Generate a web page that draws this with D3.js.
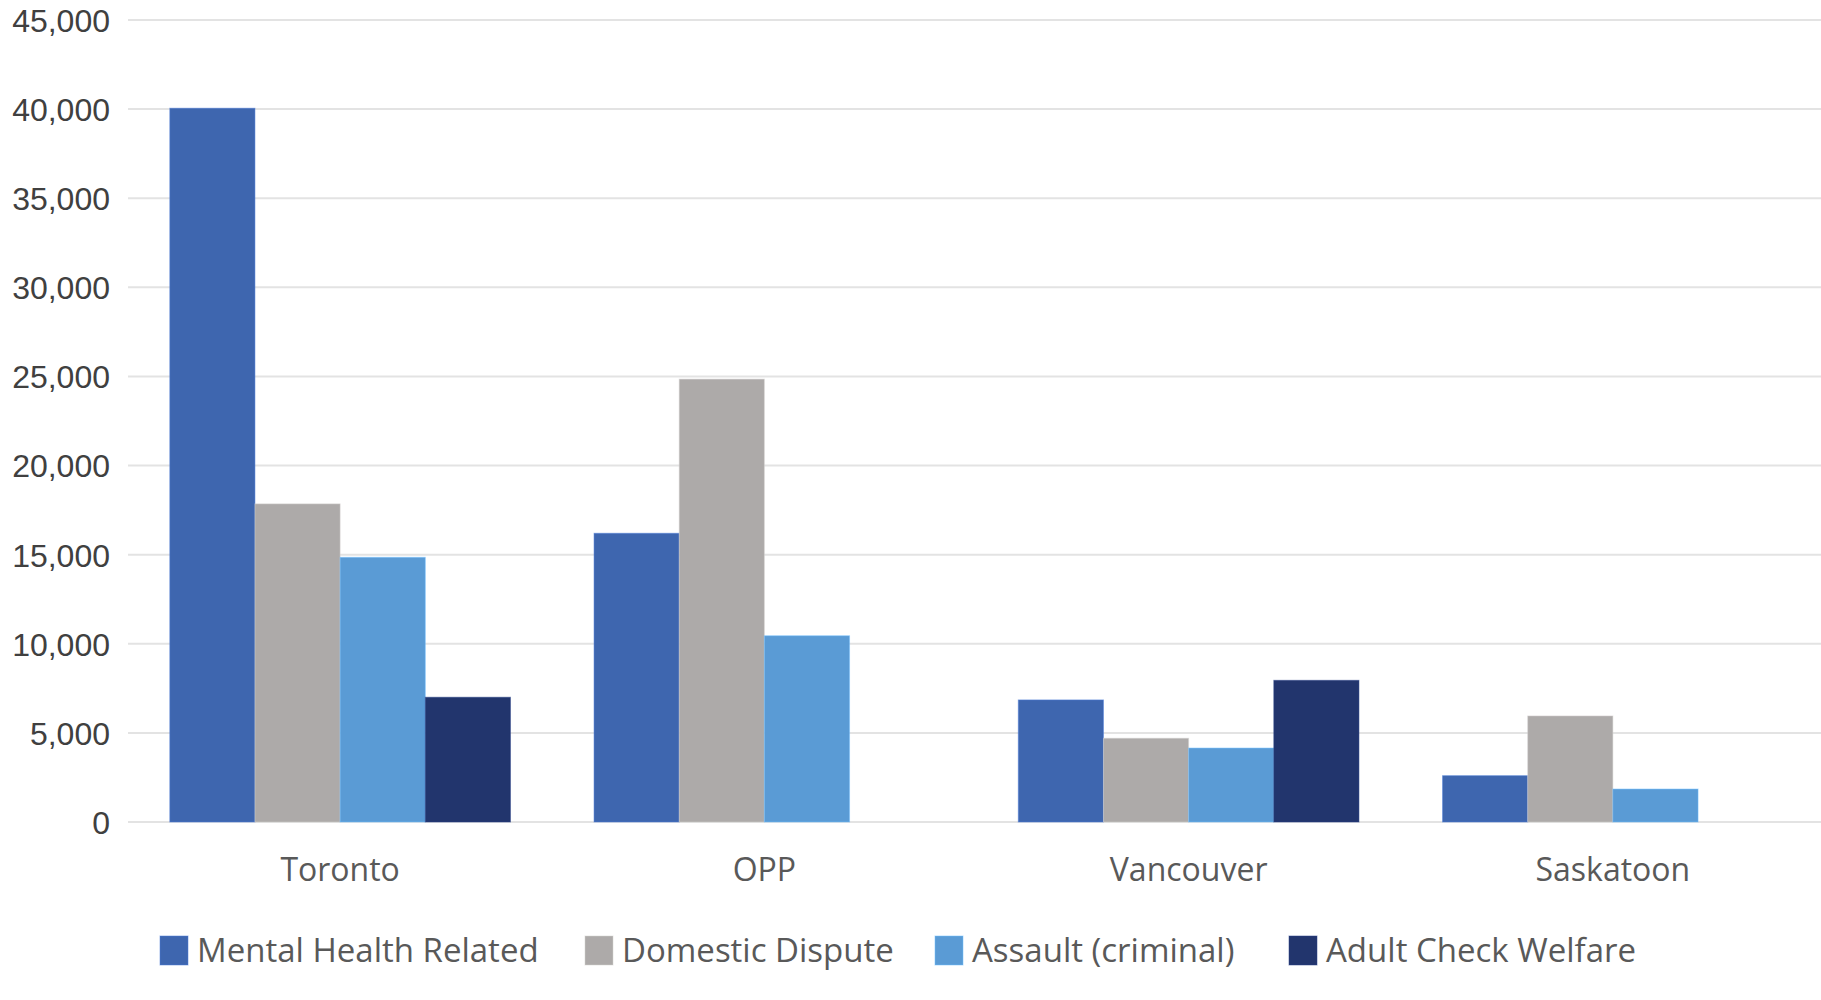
<!DOCTYPE html>
<html>
<head>
<meta charset="utf-8">
<script src="https://cdn.jsdelivr.net/npm/d3@7"></script>
<style>
  html, body { margin: 0; padding: 0; background: #fff; }
  svg { display: block; }
</style>
</head>
<body>
<svg id="chart"></svg>
<script>
const categories = ['Toronto', 'OPP', 'Vancouver', 'Saskatoon'];
const seriesNames = ['Mental Health Related', 'Domestic Dispute', 'Assault (criminal)', 'Adult Check Welfare'];
const mentalHealth = [40050, 16200, 6850, 2600];
const domesticDispute = [17850, 24850, 4700, 5950];
const assault = [14850, 10450, 4150, 1850];
const adultCheckWelfare = [7000, 0, 7950, 0];
const yTicks = [0, 5000, 10000, 15000, 20000, 25000, 30000, 35000, 40000, 45000];
const colors = ['#3e66af', '#adaaa9', '#5a9bd5', '#22356d'];

const seriesValues = [mentalHealth, domesticDispute, assault, adultCheckWelfare];

const totalWidth = 1821;
const totalHeight = 1000;
const margin = { top: 20, right: 0, bottom: 178, left: 128 };
const width = totalWidth - margin.left - margin.right;
const height = totalHeight - margin.top - margin.bottom;

const svgEl = d3.select('#chart')
  .attr('width', totalWidth)
  .attr('height', totalHeight);

const svg = svgEl.append('g')
  .attr('transform', `translate(${margin.left},${margin.top})`);

// the last band runs a little past the right edge, as in the source
const x = d3.scaleBand().domain(categories).range([0, width + 4]).padding(0);

const xSub = d3.scaleBand()
  .domain(seriesNames)
  .range([x.bandwidth() * 0.0985, x.bandwidth() * 0.9015])
  .padding(0);

const y = d3.scaleLinear().domain([0, 45000]).range([height, 0]);

// gridlines
svg.append('g')
  .selectAll('line')
  .data(yTicks)
  .join('line')
  .attr('x1', 0)
  .attr('x2', width)
  .attr('y1', (d) => y(d))
  .attr('y2', (d) => y(d))
  .attr('stroke', '#e3e3e3')
  .attr('stroke-width', 2);

// y axis labels
svg.append('g')
  .selectAll('text')
  .data(yTicks)
  .join('text')
  .attr('x', -18)
  .attr('y', (d) => y(d))
  .attr('dy', '0.37em')
  .attr('text-anchor', 'end')
  .style('font-family', '"Liberation Sans", Arial, sans-serif')
  .style('font-size', '32px')
  .style('fill', '#404040')
  .text((d) => d3.format(',')(d));

// bars
const rows = categories.map((c, i) => ({
  label: c,
  values: seriesNames.map((s, j) => ({ key: s, value: seriesValues[j][i], color: colors[j] })),
}));

svg.append('g')
  .selectAll('g')
  .data(rows)
  .join('g')
  .attr('transform', (d) => `translate(${x(d.label)},0)`)
  .selectAll('rect')
  .data((d) => d.values.filter((v) => v.value > 0))
  .join('rect')
  .attr('x', (d) => xSub(d.key))
  .attr('y', (d) => y(d.value))
  .attr('width', xSub.bandwidth())
  .attr('height', (d) => height - y(d.value))
  .attr('fill', (d) => d.color)
  .attr('stroke', (d) => d3.color(d.color).brighter(0.6))
  .attr('stroke-opacity', 0.5)
  .attr('stroke-width', 1);

// category labels
svg.append('g')
  .selectAll('text')
  .data(categories)
  .join('text')
  .attr('x', (d) => x(d) + x.bandwidth() / 2)
  .attr('y', height + 59)
  .attr('text-anchor', 'middle')
  .style('font-family', '"Open Sans", sans-serif')
  .style('font-size', '32px')
  .style('fill', '#595959')
  .text((d) => d);

// legend, item offsets follow the source layout
const legendOffsets = [0, 425, 775, 1129];
const legend = svgEl.append('g').attr('transform', 'translate(160, 936)');
seriesNames.forEach((name, i) => {
  const item = legend.append('g').attr('transform', `translate(${legendOffsets[i]},0)`);
  item.append('rect')
    .attr('width', 28)
    .attr('height', 29)
    .attr('fill', colors[i])
    .attr('stroke', d3.color(colors[i]).brighter(0.6))
    .attr('stroke-opacity', 0.5);
  item.append('text')
    .attr('x', 37)
    .attr('y', 26)
    .style('font-family', '"Open Sans", sans-serif')
    .style('font-size', '33px')
    .style('fill', '#595959')
    .text(name);
});
</script>
</body>
</html>
